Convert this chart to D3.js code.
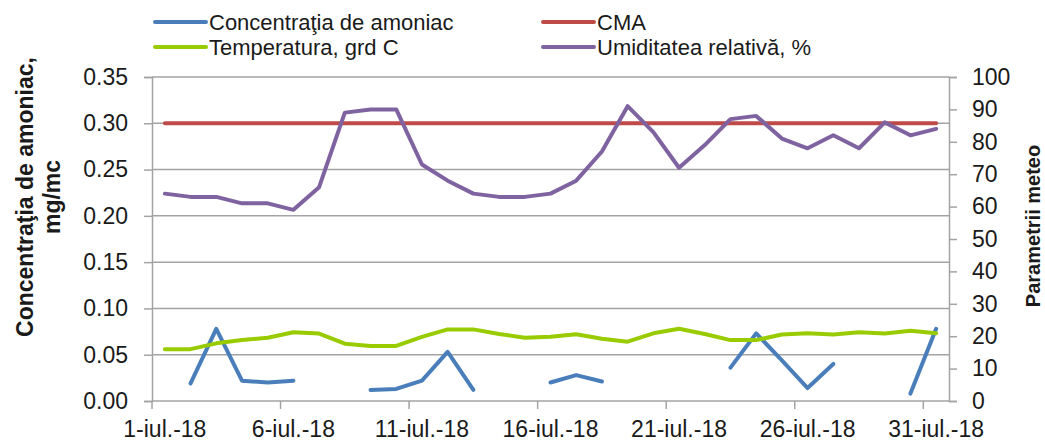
<!DOCTYPE html>
<html lang="ro">
<head>
    <meta charset="UTF-8">
    <title>Concentraţia de amoniac - iulie 2018</title>
    <script src="https://d3js.org/d3.v7.min.js"></script>
    <style>
        body {
            margin: 0;
            background-color: white;
            font-family: "Liberation Sans", Arial, sans-serif;
        }
        svg text {
            fill: #1a1a1a;
        }
    </style>
</head>
<body>
    <div id="chart"></div>

    <script>
        // zilele lunii iulie 2018
        const days = d3.range(1, 32);
        const tickDays = [1, 6, 11, 16, 21, 26, 31];
        const tickLabels = ["1-iul.-18", "6-iul.-18", "11-iul.-18", "16-iul.-18", "21-iul.-18", "26-iul.-18", "31-iul.-18"];

        // concentratia de amoniac, mg/mc (null = lipsa masuratori)
        const ammonia = [null, 0.019, 0.078, 0.022, 0.020, 0.022, null, null, 0.012, 0.013,
            0.022, 0.053, 0.012, null, null, 0.020, 0.028, 0.021, null, null,
            null, null, 0.036, 0.073, 0.044, 0.014, 0.040, null, null, 0.008, 0.078];
        const cma = days.map(() => 0.30);
        const temperature = [16, 16, 17.8, 18.8, 19.5, 21.2, 20.8, 17.7, 17, 17,
            19.8, 22.1, 22.1, 20.7, 19.5, 19.8, 20.6, 19.2, 18.3, 20.9,
            22.3, 20.7, 18.8, 18.8, 20.5, 20.9, 20.5, 21.2, 20.8, 21.7, 20.9];
        const humidity = [64, 63, 63, 61, 61, 59, 66, 89, 90, 90,
            73, 68, 64, 63, 63, 64, 68, 77, 91, 83,
            72, 79, 87, 88, 81, 78, 82, 78, 86, 82, 84];

        const leftTicks = [0, 0.05, 0.10, 0.15, 0.20, 0.25, 0.30, 0.35];
        const rightTicks = d3.range(0, 101, 10);

        const width = 1045, height = 441;
        const plot = { left: 152, right: 949, top: 77, bottom: 401 };
        const gridColor = "#a3a3a3";

        const svg = d3.select("#chart")
            .append("svg")
            .attr("width", width)
            .attr("height", height);

        const x = d3.scaleBand()
            .domain(days)
            .range([plot.left, plot.right])
            .padding(0);
        const cx = d => x(d) + x.bandwidth() / 2;

        const yLeft = d3.scaleLinear().domain([0, 0.35]).range([plot.bottom, plot.top]);
        const yRight = d3.scaleLinear().domain([0, 100]).range([plot.bottom, plot.top]);

        // linii de grila
        svg.append("g")
            .selectAll("line")
            .data(leftTicks.slice(1))
            .join("line")
            .attr("x1", plot.left)
            .attr("x2", plot.right)
            .attr("y1", d => yLeft(d))
            .attr("y2", d => yLeft(d))
            .attr("stroke", gridColor)
            .attr("stroke-width", 1.5);

        // axa stanga
        const axisLeft = svg.append("g")
            .attr("transform", `translate(${plot.left},0)`)
            .call(d3.axisLeft(yLeft).tickValues(leftTicks).tickFormat(d3.format(".2f")).tickSize(8).tickPadding(16));

        // axa dreapta
        const axisRight = svg.append("g")
            .attr("transform", `translate(${plot.right},0)`)
            .call(d3.axisRight(yRight).tickValues(rightTicks).tickSize(8).tickPadding(15));

        [axisLeft, axisRight].forEach(g => {
            g.select(".domain").attr("stroke", gridColor).attr("stroke-width", 1.5);
            g.selectAll(".tick line").attr("stroke", gridColor).attr("stroke-width", 1.5);
            g.selectAll(".tick text")
                .attr("font-family", "'Liberation Sans', Arial, sans-serif")
                .attr("font-size", 23)
                .attr("fill", "#1a1a1a");
        });

        // axa x
        svg.append("line")
            .attr("x1", plot.left)
            .attr("x2", plot.right)
            .attr("y1", plot.bottom)
            .attr("y2", plot.bottom)
            .attr("stroke", gridColor)
            .attr("stroke-width", 1.5);

        svg.append("g")
            .selectAll("line")
            .data(tickDays)
            .join("line")
            .attr("x1", d => x(d))
            .attr("x2", d => x(d))
            .attr("y1", plot.bottom)
            .attr("y2", plot.bottom + 8)
            .attr("stroke", gridColor)
            .attr("stroke-width", 1.5);

        svg.append("g")
            .selectAll("text")
            .data(tickDays)
            .join("text")
            .attr("x", d => cx(d))
            .attr("y", 437)
            .attr("text-anchor", "middle")
            .attr("font-size", 23)
            .text((d, i) => tickLabels[i]);

        // seriile
        const series = [
            { name: "Concentraţia de amoniac", values: ammonia, y: yLeft, color: "#4a7ebb" },
            { name: "CMA", values: cma, y: yLeft, color: "#be4b48" },
            { name: "Temperatura, grd C", values: temperature, y: yRight, color: "#99cc00" },
            { name: "Umiditatea relativă, %", values: humidity, y: yRight, color: "#7f63a1" }
        ];

        series.forEach(s => {
            const line = d3.line()
                .defined(d => d[1] !== null)
                .x(d => cx(d[0]))
                .y(d => s.y(d[1]));

            svg.append("path")
                .datum(days.map((d, i) => [d, s.values[i]]))
                .attr("d", line)
                .attr("fill", "none")
                .attr("stroke", s.color)
                .attr("stroke-width", 4)
                .attr("stroke-linecap", "round")
                .attr("stroke-linejoin", "round");
        });

        // legenda
        const legendPos = [
            { x: 155, y: 22 },
            { x: 543, y: 22 },
            { x: 155, y: 47 },
            { x: 543, y: 47 }
        ];
        const legend = svg.append("g")
            .selectAll("g")
            .data(series)
            .join("g")
            .attr("transform", (d, i) => `translate(${legendPos[i].x},${legendPos[i].y})`);

        legend.append("line")
            .attr("x1", 0)
            .attr("x2", 51)
            .attr("stroke", d => d.color)
            .attr("stroke-width", 4)
            .attr("stroke-linecap", "round");

        legend.append("text")
            .attr("x", 54)
            .attr("dy", "0.35em")
            .attr("font-size", 22)
            .text(d => d.name);

        // titluri axe
        const leftTitle = svg.append("text")
            .attr("transform", "translate(25,197) rotate(-90)")
            .attr("text-anchor", "middle")
            .attr("font-size", 23)
            .attr("font-weight", "bold");
        leftTitle.append("tspan").attr("x", 0).attr("dy", "0.35em").text("Concentraţia de amoniac,");
        leftTitle.append("tspan").attr("x", 0).attr("dy", "1.15em").text("mg/mc");

        svg.append("text")
            .attr("transform", "translate(1033,226) rotate(-90)")
            .attr("text-anchor", "middle")
            .attr("dy", "0.35em")
            .attr("font-size", 20)
            .attr("font-weight", "bold")
            .text("Parametrii meteo");
    </script>
</body>
</html>
